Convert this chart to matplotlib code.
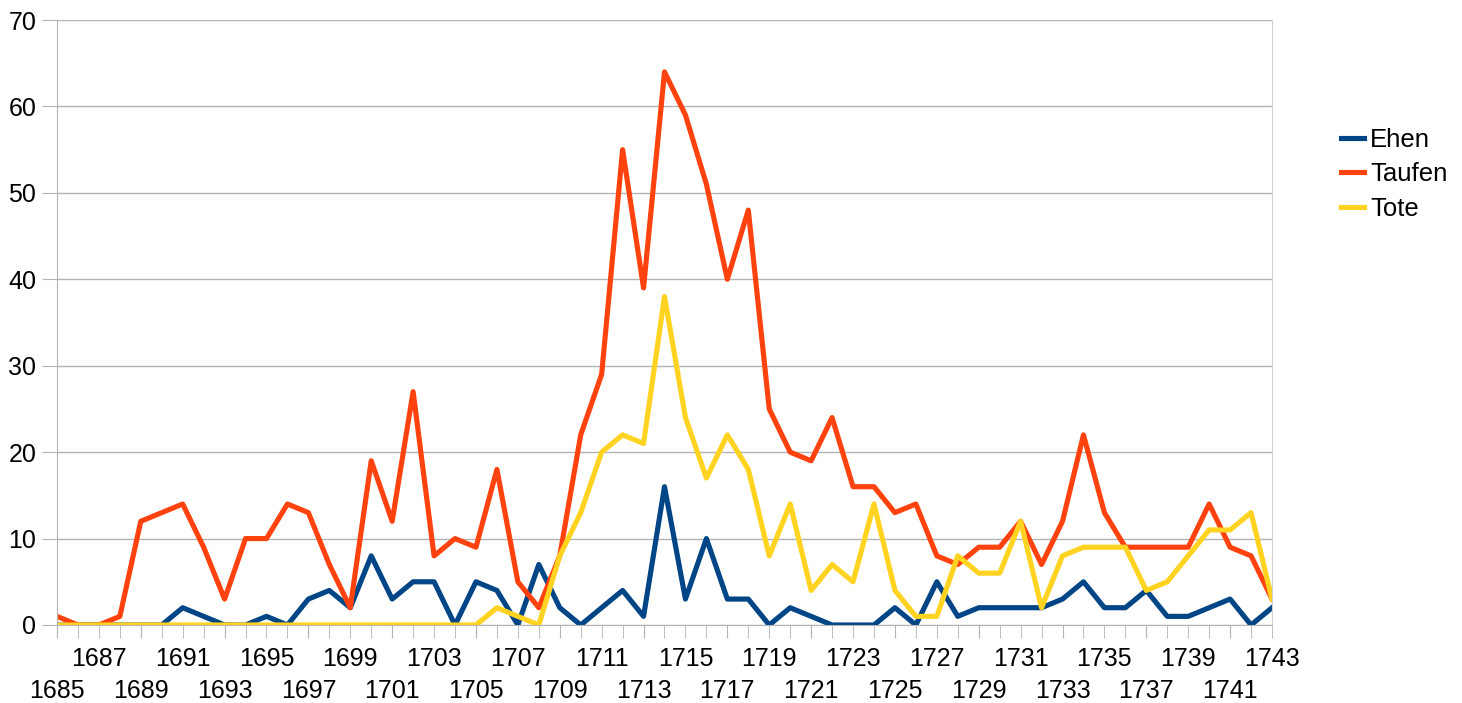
import matplotlib.pyplot as plt

plt.rcParams['font.family'] = ['Liberation Sans', 'DejaVu Sans']

years = list(range(1685, 1744))
ehen = [0, 0, 0, 0, 0, 0, 2, 1, 0, 0, 1, 0, 3, 4, 2, 8, 3, 5, 5, 0,
        5, 4, 0, 7, 2, 0, 2, 4, 1, 16, 3, 10, 3, 3, 0, 2, 1, 0, 0, 0,
        2, 0, 5, 1, 2, 2, 2, 2, 3, 5, 2, 2, 4, 1, 1, 2, 3, 0, 2]
taufen = [1, 0, 0, 1, 12, 13, 14, 9, 3, 10, 10, 14, 13, 7, 2, 19, 12, 27, 8, 10,
          9, 18, 5, 2, 8, 22, 29, 55, 39, 64, 59, 51, 40, 48, 25, 20, 19, 24, 16, 16,
          13, 14, 8, 7, 9, 9, 12, 7, 12, 22, 13, 9, 9, 9, 9, 14, 9, 8, 3]
tote = [0, 0, 0, 0, 0, 0, 0, 0, 0, 0, 0, 0, 0, 0, 0, 0, 0, 0, 0, 0,
        0, 2, 1, 0, 8, 13, 20, 22, 21, 38, 24, 17, 22, 18, 8, 14, 4, 7, 5, 14,
        4, 1, 1, 8, 6, 6, 12, 2, 8, 9, 9, 9, 4, 5, 8, 11, 11, 13, 3]

fig = plt.figure(figsize=(14.62, 7.03), dpi=100)
ax = fig.add_axes([57 / 1462, 78 / 703, 1215 / 1462, 605 / 703])

ax.plot(years, ehen, color='#004586', lw=3.7, label='Ehen')
ax.plot(years, taufen, color='#ff420e', lw=3.7, label='Taufen')
ax.plot(years, tote, color='#ffd320', lw=3.7, label='Tote')

ax.set_xlim(1685, 1743)
ax.set_ylim(0, 70)
ax.set_yticks(range(0, 71, 10))
ax.grid(axis='y', color='#b3b3b3', lw=1)
ax.set_axisbelow(True)

# tick on every year; labels every second year in two staggered rows:
# lower row as major ticks, upper row as minor ticks
lower = years[::4]
others = [y for y in years if y not in lower]
upper_labels = [str(y) if (y - 1685) % 4 == 2 else '' for y in others]
ax.set_xticks(lower)
ax.set_xticklabels([str(y) for y in lower])
ax.set_xticks(others, minor=True)
ax.set_xticklabels(upper_labels, minor=True)

ax.tick_params(axis='x', which='major', length=9, color='#b3b3b3', labelsize=18, pad=30)
ax.tick_params(axis='x', which='minor', length=9, color='#b3b3b3', labelsize=18, pad=7)
ax.tick_params(axis='y', length=11, color='#b3b3b3', labelsize=18, pad=4)

for s in ['left', 'bottom']:
    ax.spines[s].set_color('#b3b3b3')
ax.spines['right'].set_color('#d0d0d0')
ax.spines['top'].set_visible(False)

ax.legend(loc='center left', bbox_to_anchor=(1.0568, 0.745), frameon=False,
          fontsize=18.5, handlelength=0.9, handletextpad=0.23, labelspacing=0.41,
          borderaxespad=0, borderpad=0)

fig.savefig('out.png', dpi=100)
